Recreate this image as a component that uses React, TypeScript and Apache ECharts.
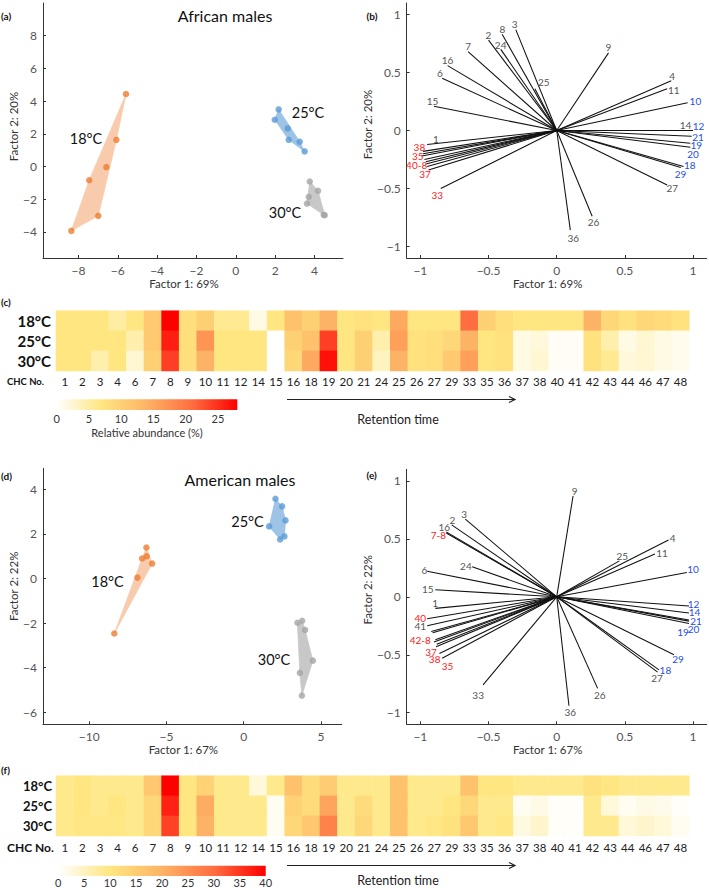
import React, { useEffect, useRef } from "react";
import * as echarts from "echarts";

const FONT = "Lato, 'Open Sans', sans-serif";

// ---------- Panel (a): African males PCA scores ----------
const afr18 = [[-5.58, 4.43], [-6.07, 1.63], [-6.58, -0.04], [-7.45, -0.84], [-6.99, -3.02], [-8.36, -3.94]];
const afr25 = [[2.18, 3.49], [1.98, 2.86], [2.64, 2.33], [2.69, 1.63], [3.25, 1.51], [3.5, 0.92]];
const afr30 = [[3.76, -0.92], [4.18, -1.49], [3.71, -1.86], [3.62, -2.27], [4.47, -2.96], [4.52, -2.98]];

// ---------- Panel (d): American males PCA scores ----------
const ame18 = [[-6.3, 1.39], [-6.28, 1.0], [-6.58, 0.9], [-5.93, 0.67], [-6.88, 0.04], [-8.38, -2.47]];
const ame25 = [[2.06, 3.58], [2.49, 3.24], [2.71, 2.61], [1.65, 2.34], [2.64, 1.89], [2.36, 1.75]];
const ame30 = [[3.48, -1.99], [3.79, -1.9], [3.98, -2.31], [4.48, -3.69], [3.64, -4.24], [3.77, -5.26]];

// ---------- Loadings: [label, x, y, labelX, labelY, colour group] ----------
const afrLoadings: any[] = [
  ["3", -0.30, 0.87, -0.309, 0.917, "g"],
  ["8", -0.40, 0.83, -0.399, 0.875, "g"],
  ["2", -0.50, 0.78, -0.501, 0.826, "g"],
  ["24", -0.41, 0.70, -0.411, 0.741, "g"],
  ["7", -0.65, 0.68, -0.650, 0.726, "g"],
  ["16", -0.80, 0.56, -0.800, 0.604, "g"],
  ["6", -0.84, 0.45, -0.856, 0.496, "g"],
  ["25", -0.16, 0.36, -0.095, 0.419, "g"],
  ["15", -0.90, 0.21, -0.910, 0.256, "g"],
  ["9", 0.38, 0.67, 0.380, 0.718, "g"],
  ["4", 0.84, 0.43, 0.847, 0.467, "g"],
  ["11", 0.81, 0.36, 0.859, 0.353, "g"],
  ["10", 0.96, 0.24, 1.017, 0.256, "b"],
  ["14", 0.99, 0.0, 0.945, 0.048, "g"],
  ["12", 1.0, 0.0, 1.040, 0.035, "b"],
  ["21", 0.99, -0.05, 1.036, -0.053, "b"],
  ["19", 0.98, -0.11, 1.024, -0.125, "b"],
  ["20", 0.98, -0.145, 1.0, -0.205, "b"],
  ["18", 0.93, -0.31, 0.976, -0.299, "b"],
  ["29", 0.91, -0.32, 0.908, -0.372, "b"],
  ["27", 0.81, -0.47, 0.847, -0.493, "g"],
  ["26", 0.26, -0.74, 0.270, -0.792, "g"],
  ["36", 0.10, -0.86, 0.122, -0.926, "g"],
  ["1", -0.95, -0.12, -0.886, -0.071, "g"],
  ["38", -0.98, -0.18, -1.007, -0.140, "r"],
  ["35", -0.99, -0.22, -1.019, -0.217, "r"],
  ["40-8", -0.96, -0.29, -1.027, -0.295, "r"],
  ["37", -0.94, -0.34, -0.966, -0.377, "r"],
  ["33", -0.85, -0.50, -0.876, -0.556, "r"],
  ["", -0.98, -0.20, 0, 0, "g"],
  ["", -0.97, -0.25, 0, 0, "g"],
  ["", -0.96, -0.27, 0, 0, "g"],
  ["", -0.95, -0.31, 0, 0, "g"],
];

const ameLoadings: any[] = [
  ["9", 0.12, 0.87, 0.131, 0.914, "g"],
  ["3", -0.67, 0.67, -0.678, 0.714, "g"],
  ["2", -0.77, 0.62, -0.765, 0.666, "g"],
  ["16", -0.81, 0.56, -0.824, 0.606, "g"],
  ["7-8", -0.81, 0.55, -0.868, 0.529, "r"],
  ["24", -0.62, 0.26, -0.666, 0.263, "g"],
  ["6", -0.95, 0.22, -0.970, 0.234, "g"],
  ["15", -0.89, 0.06, -0.945, 0.063, "g"],
  ["1", -0.89, -0.10, -0.892, -0.057, "g"],
  ["40", -0.95, -0.19, -1.001, -0.18, "r"],
  ["41", -0.95, -0.25, -1.001, -0.251, "g"],
  ["42-8", -0.90, -0.39, -1.001, -0.370, "r"],
  ["37", -0.885, -0.43, -0.922, -0.478, "r"],
  ["38", -0.86, -0.49, -0.895, -0.538, "r"],
  ["35", -0.84, -0.53, -0.800, -0.595, "r"],
  ["33", -0.54, -0.76, -0.576, -0.843, "g"],
  ["36", 0.09, -0.94, 0.100, -0.994, "g"],
  ["26", 0.30, -0.79, 0.316, -0.843, "g"],
  ["27", 0.74, -0.65, 0.736, -0.70, "g"],
  ["18", 0.75, -0.63, 0.797, -0.634, "b"],
  ["29", 0.86, -0.50, 0.889, -0.537, "b"],
  ["19", 0.97, -0.21, 0.926, -0.306, "b"],
  ["20", 0.97, -0.23, 1.004, -0.277, "b"],
  ["21", 0.97, -0.20, 1.021, -0.206, "b"],
  ["14", 0.97, -0.14, 1.011, -0.134, "b"],
  ["12", 0.97, -0.08, 1.004, -0.06, "b"],
  ["10", 0.955, 0.21, 0.999, 0.243, "b"],
  ["11", 0.72, 0.37, 0.773, 0.377, "g"],
  ["25", 0.46, 0.31, 0.481, 0.354, "g"],
  ["4", 0.82, 0.49, 0.851, 0.509, "g"],
  ["", -0.92, -0.30, 0, 0, "g"],
  ["", -0.91, -0.31, 0, 0, "g"],
  ["", -0.89, -0.37, 0, 0, "g"],
  ["", -0.88, -0.41, 0, 0, "g"],
];

// ---------- Heatmaps ----------
const chcNumbers = ["1", "2", "3", "4", "6", "7", "8", "9", "10", "11", "12", "14", "15", "16", "18", "19", "20", "21", "24", "25", "26", "27", "29", "33", "35", "36", "37", "38", "40", "41", "42", "43", "44", "46", "47", "48"];
const temps = ["18°C", "25°C", "30°C"];

const afrHeat18 = [7, 7, 7, 5, 7, 11, 28, 8, 10, 6, 6, 1.5, 7, 12, 10, 14, 7, 7.5, 7, 15, 7, 7, 7, 21, 10, 8, 7, 7, 7, 7, 14, 9, 7.5, 9, 8.5, 7.5];
const afrHeat25 = [7, 7, 7, 7, 4.5, 11, 26, 8, 17, 7, 7, 7, 0, 10, 12, 24, 7, 10, 4.5, 16, 7.5, 8, 9, 14, 7, 7.5, 1.5, 2, 0.5, 0.5, 7.5, 4.5, 1.5, 2.5, 1.5, 1];
const afrHeat30 = [7, 7, 4.5, 7, 2.5, 10, 24, 8, 14, 7, 7, 7, 0, 9, 15, 27, 7, 10, 3.5, 14, 7.5, 8, 11, 16, 7, 7.5, 1.5, 2.5, 0.5, 0.5, 7.5, 6, 2, 2.5, 1.5, 1];

const ameHeat18 = [9, 10, 9, 9, 9, 16, 40, 10, 14, 9, 9, 3, 9, 17, 12, 15, 9, 9, 9, 17, 9, 9, 9, 17, 10, 10, 9, 9, 9, 9, 11, 10, 9, 9, 9, 9];
const ameHeat25 = [9, 10, 9, 10, 9, 13, 37, 10, 21, 9, 9, 9, 1, 14, 12, 22, 9, 12, 9, 17, 9, 9, 10, 13, 9, 9, 1, 2, 0.5, 0.5, 9, 3, 1, 2, 1.5, 0.5];
const ameHeat30 = [9, 9.5, 9.5, 9.5, 9, 13, 34, 10, 20, 9, 9, 9, 1, 13, 16, 27, 9, 13, 9, 17, 9, 9.5, 11, 16, 9, 9.5, 2.5, 4, 0.5, 0.5, 9, 9, 3, 4, 3, 1];

const afrBarTicks = [0, 5, 10, 15, 20, 25];
const ameBarTicks = [0, 5, 10, 15, 20, 25, 30, 35, 40];

const HEAT_COLORS = ["#FFFFFF", "#FFE680", "#FDB365", "#FF6E40", "#FF0000"];
const LABEL_COLORS: Record<string, string> = { g: "#555555", r: "#FF1A1A", b: "#1F4FE6" };

const minusFmt = (v: number) => (v < 0 ? "\u2212" + String(-v) : String(v));

function convexHull(pts: number[][]) {
  const p = pts.slice().sort((a, b) => a[0] - b[0] || a[1] - b[1]);
  const cross = (o: number[], a: number[], b: number[]) => (a[0] - o[0]) * (b[1] - o[1]) - (a[1] - o[1]) * (b[0] - o[0]);
  const lower: number[][] = [];
  for (const q of p) {
    while (lower.length >= 2 && cross(lower[lower.length - 2], lower[lower.length - 1], q) <= 0) lower.pop();
    lower.push(q);
  }
  const upper: number[][] = [];
  for (let i = p.length - 1; i >= 0; i--) {
    const q = p[i];
    while (upper.length >= 2 && cross(upper[upper.length - 2], upper[upper.length - 1], q) <= 0) upper.pop();
    upper.push(q);
  }
  upper.pop();
  lower.pop();
  return lower.concat(upper);
}

function scatterX(grid: number, min: number, max: number, ticks: number[], name: string) {
  return {
    gridIndex: grid, type: "value", min, max,
    axisLine: { onZero: false, lineStyle: { color: "#333", width: 1 } },
    axisTick: { inside: true, length: 3, customValues: ticks, lineStyle: { color: "#333" } },
    axisLabel: { customValues: ticks, formatter: minusFmt, color: "#555", fontSize: 12, fontFamily: FONT, margin: 6 },
    splitLine: { show: false },
    name, nameLocation: "middle", nameGap: 19,
    nameTextStyle: { fontSize: 11.5, color: "#333", fontFamily: FONT, padding: [0, 18, 0, 0] },
  };
}
function scatterY(grid: number, min: number, max: number, ticks: number[], name: string, gap: number, shiftUp: number) {
  return {
    gridIndex: grid, type: "value", min, max,
    axisLine: { onZero: false, lineStyle: { color: "#333", width: 1 } },
    axisTick: { inside: true, length: 3, customValues: ticks, lineStyle: { color: "#333" } },
    axisLabel: { customValues: ticks, formatter: minusFmt, color: "#555", fontSize: 12, fontFamily: FONT, margin: 6 },
    splitLine: { show: false },
    name, nameLocation: "middle", nameGap: gap,
    nameTextStyle: { fontSize: 11.5, color: "#333", fontFamily: FONT, padding: [0, 0, 0, shiftUp * 2] },
  };
}
function heatX(grid: number, margin: number) {
  return {
    gridIndex: grid, type: "category", data: chcNumbers,
    axisLine: { show: false }, axisTick: { show: false }, splitLine: { show: false },
    axisLabel: { interval: 0, color: "#222", fontSize: 11.5, fontFamily: FONT, margin },
  };
}
function heatY(grid: number, size: number, margin: number) {
  return {
    gridIndex: grid, type: "category", data: temps, inverse: true,
    axisLine: { show: false }, axisTick: { show: false }, splitLine: { show: false },
    axisLabel: { color: "#111", fontSize: size, fontWeight: "bold", fontFamily: FONT, margin },
  };
}
function barX(grid: number, max: number, ticks: number[], margin: number, name?: string) {
  return {
    gridIndex: grid, type: "value", min: 0, max,
    axisLine: { show: false }, axisTick: { show: false }, splitLine: { show: false },
    axisLabel: { customValues: ticks, color: "#333", fontSize: 11, fontFamily: FONT, margin },
    name: name || "", nameLocation: "middle", nameGap: 17,
    nameTextStyle: { fontSize: 11, color: "#333", fontFamily: FONT },
  };
}
function hiddenY(grid: number) {
  return { gridIndex: grid, type: "value", min: 0, max: 1, show: false };
}

function hullSeries(pts: number[][], ai: number, fill: string) {
  const hull = convexHull(pts);
  return {
    type: "custom", xAxisIndex: ai, yAxisIndex: ai, data: [pts[0]], silent: true, z: 1,
    renderItem: (_p: any, api: any) => ({
      type: "polygon",
      shape: { points: hull.map((q) => api.coord(q)) },
      style: { fill, stroke: fill, lineWidth: 0.8 },
    }),
  };
}
function pointSeries(pts: number[][], ai: number, color: string) {
  return { type: "scatter", xAxisIndex: ai, yAxisIndex: ai, data: pts, symbolSize: 6.5, itemStyle: { color }, z: 3, silent: true };
}
function biplotSeries(load: any[], ai: number) {
  return {
    type: "custom", xAxisIndex: ai, yAxisIndex: ai, silent: true, z: 2,
    data: load.map((d) => [d[1], d[2]]),
    renderItem: (params: any, api: any) => {
      const d = load[params.dataIndex];
      const o = api.coord([0, 0]);
      const e = api.coord([d[1], d[2]]);
      const children: any[] = [
        { type: "line", shape: { x1: o[0], y1: o[1], x2: e[0], y2: e[1] }, style: { stroke: "#111", lineWidth: 1.05 } },
      ];
      if (d[0]) {
        const l = api.coord([d[3], d[4]]);
        children.push({
          type: "text", x: l[0], y: l[1],
          style: {
            text: d[0], fill: LABEL_COLORS[d[5]], opacity: 1,
            fontSize: 10, fontWeight: "normal",
            fontFamily: FONT, align: "center", verticalAlign: "middle",
          },
        });
      }
      return { type: "group", children };
    },
  };
}
function heatSeries(ai: number, rows: number[][]) {
  const data: number[][] = [];
  rows.forEach((row, r) => row.forEach((v, c) => data.push([c, r, v])));
  return { type: "heatmap", xAxisIndex: ai, yAxisIndex: ai, data, silent: true, emphasis: { disabled: true }, itemStyle: { borderWidth: 0 } };
}

function txt(text: string, x: number, y: number, size: number, opts: any = {}) {
  return {
    type: "text", x, y, silent: true,
    style: {
      text, fill: opts.color || "#111", fontSize: size, fontWeight: opts.bold ? "bold" : "normal", fontFamily: FONT,
      align: opts.align || "center", verticalAlign: "middle",
      textAlign: opts.align || "center", textVerticalAlign: "middle",
    },
  };
}
function gradientBar(x: number, y: number, w: number, h: number) {
  const stops = HEAT_COLORS.map((c, i) => ({ offset: i / (HEAT_COLORS.length - 1), color: c }));
  return { type: "rect", silent: true, shape: { x, y, width: w, height: h }, style: { fill: new echarts.graphic.LinearGradient(0, 0, 1, 0, stops) } };
}
function arrow(x1: number, x2: number, y: number) {
  return [
    { type: "line", silent: true, shape: { x1, y1: y, x2, y2: y }, style: { stroke: "#222", lineWidth: 1.2 } },
    { type: "polyline", silent: true, shape: { points: [[x2 - 6, y - 3], [x2, y], [x2 - 6, y + 3]] }, style: { stroke: "#222", lineWidth: 1.2, fill: "none" } },
  ];
}

function buildOption() {
  const grids = [
    { left: 43, top: 3, width: 300, height: 255 }, // 0 (a)
    { left: 406.7, top: 3, width: 300, height: 255 }, // 1 (b)
    { left: 56, top: 310.7, width: 633.3, height: 60.3 }, // 2 (c)
    { left: 56.7, top: 399.3, width: 180.6, height: 10.7 }, // 3 (c) colour bar
    { left: 43, top: 468.3, width: 298.7, height: 256 }, // 4 (d)
    { left: 406.7, top: 469.3, width: 300, height: 255 }, // 5 (e)
    { left: 56, top: 775.7, width: 633.3, height: 60.3 }, // 6 (f)
    { left: 58.3, top: 865.7, width: 207.4, height: 10.3 }, // 7 (f) colour bar
  ];
  const loadTicks = [-1, -0.5, 0, 0.5, 1];
  const xAxis = [
    scatterX(0, -9.8, 5.45, [-8, -6, -4, -2, 0, 2, 4], "Factor 1: 69%"),
    scatterX(1, -1.1, 1.1, loadTicks, "Factor 1: 69%"),
    heatX(2, 4),
    barX(3, 28, afrBarTicks, 3, "Relative abundance (%)"),
    scatterX(4, -13, 6.35, [-10, -5, 0, 5], "Factor 1: 67%"),
    scatterX(5, -1.1, 1.1, loadTicks, "Factor 1: 67%"),
    heatX(6, 5),
    barX(7, 40, ameBarTicks, 1),
  ];
  const yAxis = [
    scatterY(0, -5.6, 10, [-4, -2, 0, 2, 4, 6, 8], "Factor 2: 20%", 15, 4),
    scatterY(1, -1.1, 1.1, loadTicks, "Factor 2: 20%", 20, 6),
    heatY(2, 15, 5),
    hiddenY(3),
    scatterY(4, -6.55, 4.95, [-6, -4, -2, 0, 2, 4], "Factor 2: 22%", 15, 10),
    scatterY(5, -1.1, 1.1, loadTicks, "Factor 2: 22%", 20, 7),
    heatY(6, 13, 4),
    hiddenY(7),
  ];

  const series: any[] = [
    heatSeries(2, [afrHeat18, afrHeat25, afrHeat30]), // 0
    heatSeries(6, [ameHeat18, ameHeat25, ameHeat30]), // 1
    hullSeries(afr18, 0, "#F8CBAD"),
    hullSeries(afr25, 0, "#9DC3E6"),
    hullSeries(afr30, 0, "#C8C8C8"),
    pointSeries(afr18, 0, "#ED7D31"),
    pointSeries(afr25, 0, "#5B9BD5"),
    pointSeries(afr30, 0, "#A5A5A5"),
    biplotSeries(afrLoadings, 1),
    { type: "scatter", xAxisIndex: 3, yAxisIndex: 3, data: [], silent: true },
    hullSeries(ame18, 4, "#F8CBAD"),
    hullSeries(ame25, 4, "#9DC3E6"),
    hullSeries(ame30, 4, "#C8C8C8"),
    pointSeries(ame18, 4, "#ED7D31"),
    pointSeries(ame25, 4, "#5B9BD5"),
    pointSeries(ame30, 4, "#A5A5A5"),
    biplotSeries(ameLoadings, 5),
    { type: "scatter", xAxisIndex: 7, yAxisIndex: 7, data: [], silent: true },
  ];

  const graphic: any[] = [
    txt("(a)", 1, 15.5, 10, { bold: true, align: "left" }),
    txt("(b)", 366.5, 15.5, 10, { bold: true, align: "left" }),
    txt("(c)", 1, 302, 10, { bold: true, align: "left" }),
    txt("(d)", 1, 476, 10, { bold: true, align: "left" }),
    txt("(e)", 366.5, 475, 10, { bold: true, align: "left" }),
    txt("(f)", 1, 770, 10, { bold: true, align: "left" }),
    txt("African males", 225, 15, 16),
    txt("American males", 240, 479.5, 16),
    txt("18°C", 86, 138.5, 14.5),
    txt("25°C", 308, 112, 14.5),
    txt("30°C", 285, 212.5, 14.5),
    txt("25°C", 247.5, 521.5, 14.5),
    txt("18°C", 107.5, 581.5, 14.5),
    txt("30°C", 274, 659, 14.5),
    txt("CHC No.", 7, 381, 9.5, { bold: true, align: "left" }),
    txt("CHC No.", 7, 847.5, 12, { bold: true, align: "left" }),
    gradientBar(56.7, 399.3, 180.6, 10.7),
    gradientBar(58.3, 865.7, 207.4, 10.3),
    ...arrow(287, 515, 399.5),
    ...arrow(287, 515, 865.5),
    txt("Retention time", 398, 419, 12.5, { color: "#222" }),
    txt("Retention time", 398, 880.5, 12.5, { color: "#222" }),
  ];

  return {
    animation: false,
    backgroundColor: "#fff",
    textStyle: { fontFamily: FONT },
    grid: grids,
    xAxis,
    yAxis,
    visualMap: [
      { type: "continuous", show: false, seriesIndex: 0, dimension: 2, min: 0, max: 28, inRange: { color: HEAT_COLORS } },
      { type: "continuous", show: false, seriesIndex: 1, dimension: 2, min: 0, max: 40, inRange: { color: HEAT_COLORS } },
    ],
    series,
    graphic,
  };
}

export default function App() {
  const ref = useRef<HTMLDivElement>(null);
  useEffect(() => {
    document.body.style.margin = "0";
    const chart = echarts.init(ref.current!, null, { renderer: "svg" });
    chart.setOption(buildOption() as any);
    return () => chart.dispose();
  }, []);
  return <div ref={ref} style={{ width: 709, height: 888 }} />;
}
